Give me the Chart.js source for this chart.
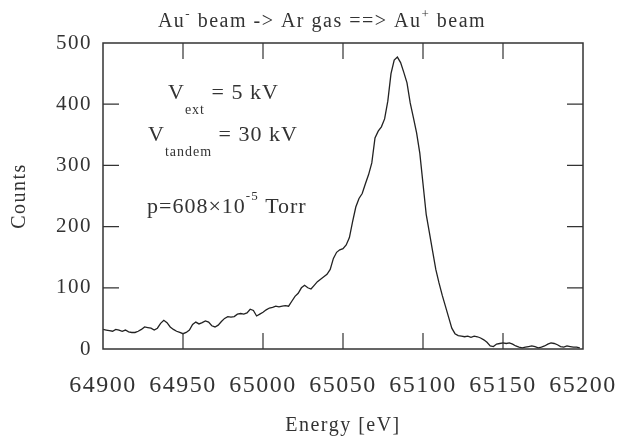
<!DOCTYPE html>
<html>
<head>
<meta charset="utf-8">
<script src="https://cdn.jsdelivr.net/npm/chart.js@4.4.0/dist/chart.umd.min.js"></script>
<style>
html, body { margin: 0; padding: 0; background: #fff; }
</style>
</head>
<body>
<canvas id="spectrum" width="623" height="438"></canvas>
<script>
// Au- beam -> Ar gas ==> Au+ beam, energy spectrum
const energy = [
    64900, 64902, 64904, 64906, 64908, 64910, 64912, 64914, 64916, 64918,
    64920, 64922, 64924, 64926, 64928, 64930, 64932, 64934, 64936, 64938,
    64940, 64942, 64944, 64946, 64948, 64950, 64952, 64954, 64956, 64958,
    64960, 64962, 64964, 64966, 64968, 64970, 64972, 64974, 64976, 64978,
    64980, 64982, 64984, 64986, 64988, 64990, 64992, 64994, 64996, 64998,
    65000, 65002, 65004, 65006, 65008, 65010, 65012, 65014, 65016, 65018,
    65020, 65022, 65024, 65026, 65028, 65030, 65032, 65034, 65036, 65038,
    65040, 65042, 65044, 65046, 65048, 65050, 65052, 65054, 65056, 65058,
    65060, 65062, 65064, 65066, 65068, 65070, 65072, 65074, 65076, 65078,
    65080, 65082, 65084, 65086, 65088, 65090, 65092, 65094, 65096, 65098,
    65100, 65102, 65104, 65106, 65108, 65110, 65112, 65114, 65116, 65118,
    65120, 65122, 65124, 65126, 65128, 65130, 65132, 65134, 65136, 65138,
    65140, 65142, 65144, 65146, 65148, 65150, 65152, 65154, 65156, 65158,
    65160, 65162, 65164, 65166, 65168, 65170, 65172, 65174, 65176, 65178,
    65180, 65182, 65184, 65186, 65188, 65190, 65192, 65194, 65196, 65198
];
const counts = [
    32, 31, 30, 29, 32, 31, 29, 31, 28, 27,
    27, 29, 32, 36, 35, 34, 31, 34, 42, 47,
    43, 36, 32, 29, 27, 25, 27, 31, 40, 44,
    41, 43, 46, 44, 38, 36, 39, 45, 50, 53,
    52, 53, 57, 58, 57, 59, 65, 63, 54, 57,
    60, 64, 67, 68, 70, 69, 70, 71, 70, 78,
    86, 91, 100, 104, 100, 98, 104, 110, 114, 118,
    122, 130, 148, 158, 162, 164, 170, 182, 208, 232,
    246, 254, 270, 285, 304, 345, 356, 363, 376, 405,
    450, 472, 477, 468, 452, 435, 402, 378, 353, 320,
    270, 220, 190, 160, 130, 108, 88, 70, 52, 34,
    25, 22, 21, 20, 21, 19, 21, 20, 18, 15,
    11, 5, 4, 8, 9, 10, 9, 10, 8, 5,
    3, 2, 3, 4, 5, 4, 2, 3, 5, 8,
    10, 9, 7, 4, 3, 5, 4, 3, 3, 2
];
const xTicks = [64900, 64950, 65000, 65050, 65100, 65150, 65200];
const yTicks = [0, 100, 200, 300, 400, 500];

const serif = "'Liberation Serif', 'Times New Roman', serif";
const ink = '#333';

// draws a run of [text, size, dy] pieces one after another
function drawPieces(ctx, x, y, pieces) {
    pieces.forEach(([txt, size, dy]) => {
        ctx.font = size + 'px ' + serif;
        ctx.fillText(txt, x, y + dy);
        x += ctx.measureText(txt).width;
    });
}
function piecesWidth(ctx, pieces) {
    let w = 0;
    pieces.forEach(([txt, size]) => {
        ctx.font = size + 'px ' + serif;
        w += ctx.measureText(txt).width;
    });
    return w;
}

const frameAndNotes = {
    id: 'frameAndNotes',
    beforeDraw(chart) {
        chart.ctx.letterSpacing = '1.5px';
    },
    afterDraw(chart) {
        const { ctx, chartArea: a, scales: { x, y } } = chart;
        ctx.save();
        ctx.strokeStyle = ink;
        ctx.lineWidth = 1.5;
        ctx.strokeRect(a.left, a.top, a.width, a.height);

        // inward ticks on all four sides
        ctx.lineWidth = 1.2;
        ctx.beginPath();
        x.ticks.forEach(t => {
            const px = x.getPixelForValue(t.value);
            if (px <= a.left + 1 || px >= a.right - 1) return;
            ctx.moveTo(px, a.bottom); ctx.lineTo(px, a.bottom - 16);
            ctx.moveTo(px, a.top); ctx.lineTo(px, a.top + 16);
        });
        y.ticks.forEach(t => {
            const py = y.getPixelForValue(t.value);
            if (py <= a.top + 1 || py >= a.bottom - 1) return;
            ctx.moveTo(a.left, py); ctx.lineTo(a.left + 16, py);
            ctx.moveTo(a.right, py); ctx.lineTo(a.right - 16, py);
        });
        ctx.stroke();

        ctx.fillStyle = ink;
        ctx.textBaseline = 'middle';
        ctx.textAlign = 'left';

        // title
        ctx.letterSpacing = '1.5px';
        const title = [['Au', 20, 0], ['-', 13, -7], [' beam -> Ar gas ==> Au', 20, 0], ['+', 13, -7], [' beam', 20, 0]];
        drawPieces(ctx, 322 - piecesWidth(ctx, title) / 2, 22, title);

        // annotations
        ctx.letterSpacing = '1px';
        drawPieces(ctx, 168, 93, [['V', 22, 0], ['ext', 14, 17], [' = 5 kV', 22, 0]]);
        drawPieces(ctx, 148, 135, [['V', 22, 0], ['tandem', 14, 17], [' = 30 kV', 22, 0]]);
        drawPieces(ctx, 147, 207, [['p=608\u00d710', 22, 0], ['-5', 13, -10], [' Torr', 22, 0]]);
        ctx.restore();
    }
};

new Chart(document.getElementById('spectrum').getContext('2d'), {
    type: 'line',
    data: {
        datasets: [{
            label: 'Counts',
            data: energy.map((e, i) => ({ x: e, y: counts[i] })),
            borderColor: '#222',
            borderWidth: 1.3,
            pointRadius: 0,
            tension: 0,
            fill: false
        }]
    },
    options: {
        responsive: false,
        animation: false,
        layout: {
            padding: { top: 43, right: 40, bottom: 0, left: 0 }
        },
        plugins: {
            legend: { display: false },
            tooltip: { enabled: false }
        },
        scales: {
            x: {
                type: 'linear',
                min: 64900,
                max: 65200,
                afterBuildTicks: s => { s.ticks = xTicks.map(v => ({ value: v })); },
                afterFit: s => { s.height = 89; s.paddingLeft = 0; s.paddingRight = 0; },
                grid: { display: false, drawTicks: false },
                border: { display: false },
                ticks: {
                    autoSkip: false,
                    maxRotation: 0,
                    padding: 22,
                    color: ink,
                    font: { family: serif, size: 24 },
                    callback: v => String(v)
                },
                title: {
                    display: true,
                    text: 'Energy [eV]',
                    color: ink,
                    font: { family: serif, size: 20 },
                    padding: { top: 0, bottom: 0 }
                }
            },
            y: {
                min: 0,
                max: 500,
                afterBuildTicks: s => { s.ticks = yTicks.map(v => ({ value: v })); },
                afterFit: s => { s.width = 103; s.paddingTop = 0; s.paddingBottom = 0; },
                grid: { display: false, drawTicks: false },
                border: { display: false },
                ticks: {
                    padding: 11,
                    color: ink,
                    font: { family: serif, size: 21 },
                    callback: v => String(v)
                },
                title: {
                    display: true,
                    text: 'Counts',
                    color: ink,
                    font: { family: serif, size: 20 },
                    padding: { top: 8, bottom: 0 }
                }
            }
        }
    },
    plugins: [frameAndNotes]
});
</script>
</body>
</html>
